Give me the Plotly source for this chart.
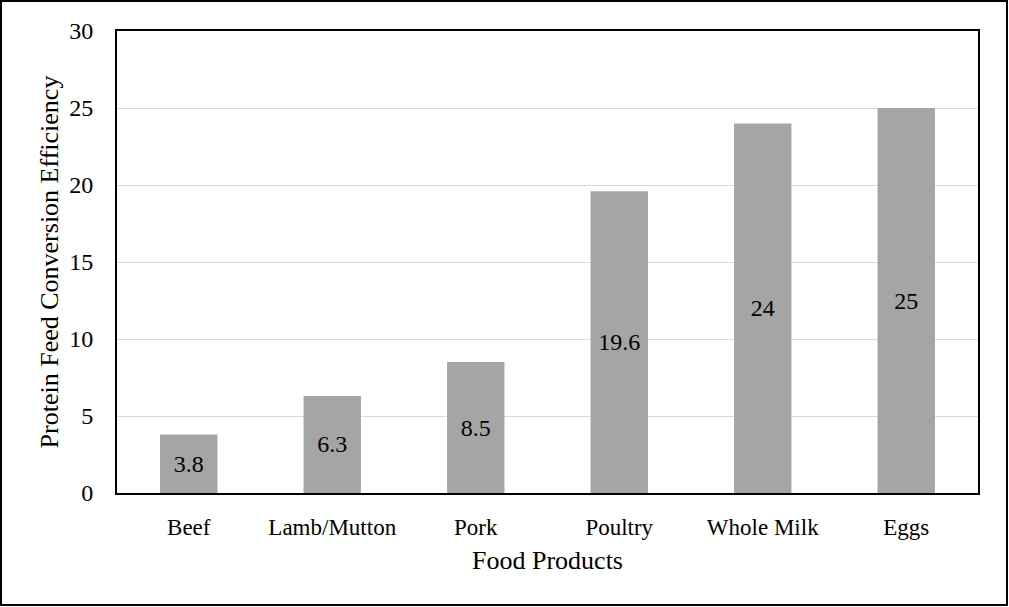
import plotly.graph_objects as go

categories = ["Beef", "Lamb/Mutton", "Pork", "Poultry", "Whole Milk", "Eggs"]
efficiency = [3.8, 6.3, 8.5, 19.6, 24, 25]
y_ticks = [0, 5, 10, 15, 20, 25, 30]

W, H = 1009, 607
L, R, T, B = 117, 31, 31, 114
pw, ph = W - L - R, H - T - B

font_family = "Liberation Serif, Times New Roman, serif"

fig = go.Figure(
    go.Bar(
        x=categories,
        y=efficiency,
        marker=dict(color="#A5A5A5", line=dict(width=0)),
        text=[f"{v:g}" for v in efficiency],
        textposition="inside",
        insidetextanchor="middle",
        textangle=0,
        textfont=dict(family=font_family, size=24, color="#000000"),
        cliponaxis=False,
    )
)

# frame around the whole figure
fig.add_shape(
    type="rect", xref="paper", yref="paper",
    x0=(1 - L) / pw, x1=(W - 2 - L) / pw,
    y0=(H - B - (H - 2)) / ph, y1=(H - B - 1) / ph,
    line=dict(color="#000000", width=2), fillcolor="rgba(0,0,0,0)",
    layer="above",
)

fig.update_layout(
    width=W, height=H,
    margin=dict(l=L, r=R, t=T, b=B, pad=0),
    paper_bgcolor="white", plot_bgcolor="white",
    bargap=0.6,
    showlegend=False,
    font=dict(family=font_family, size=24, color="#000000"),
    uniformtext=dict(minsize=24, mode="show"),
)
fig.update_xaxes(
    title=dict(text="Food Products", font=dict(size=26), standoff=12),
    showline=True, mirror=True, linecolor="#000000", linewidth=2,
    ticks="outside", ticklen=12, tickcolor="rgba(0,0,0,0)",
    showgrid=False,
    tickfont=dict(size=23),
)
fig.update_yaxes(
    title=dict(text="Protein Feed Conversion Efficiency", font=dict(size=26), standoff=3),
    range=[0, 30], tickvals=y_ticks,
    showline=True, mirror=True, linecolor="#000000", linewidth=2,
    showgrid=True, gridcolor="#D9D9D9", gridwidth=1,
    ticks="outside", ticklen=17, tickcolor="rgba(0,0,0,0)",
    tickfont=dict(size=24), zeroline=False,
)

fig.write_html("out.html")
